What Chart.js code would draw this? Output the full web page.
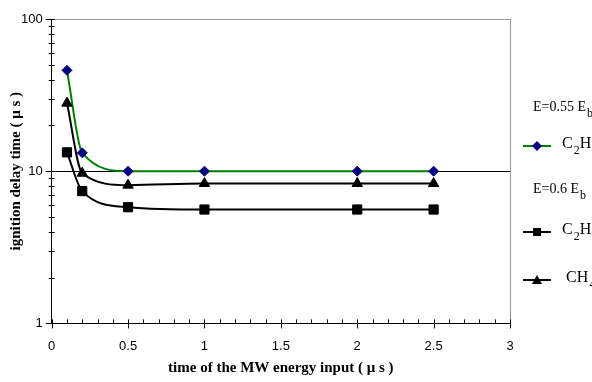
<!DOCTYPE html>
<html>
<head>
<meta charset="utf-8">
<script src="https://cdn.jsdelivr.net/npm/chart.js@4"></script>
<style>
    html, body { margin: 0; padding: 0; background: #fff; overflow: hidden; }
    #wrap { position: relative; width: 592px; height: 382px; }
    #legend { position: absolute; left: 0; top: 0; width: 592px; height: 382px; pointer-events: none;
        font-family: 'Liberation Serif', 'Times New Roman', serif; font-size: 14px; color: #000; }
    #legend .item { position: absolute; white-space: nowrap; }
    #legend .big { font-size: 16px; }
    #legend sub { font-size: 12px; vertical-align: -6px; margin-left: 1px; }
    #legend svg { position: absolute; }
</style>
</head>
<body>
<div id="wrap">
    <canvas id="chart" width="592" height="382"></canvas>
    <div id="legend"></div>
</div>
<script>
const timeValues = [0.1, 0.2, 0.5, 1, 2, 2.5];
const c2hLowEnergy = [46, 13.2, 10, 10, 10, 10];
const c2hHighEnergy = [13.3, 7.4, 5.8, 5.6, 5.6, 5.6];
const ch4HighEnergy = [28, 9.7, 8.1, 8.3, 8.3, 8.3];

const yMajorTicks = [1, 10, 100];
const yTickLabels = ['1', '10', '100'];
const xMajorTicks = [0, 0.5, 1, 1.5, 2, 2.5, 3];
const xTickLabels = ['0', '0.5', '1', '1.5', '2', '2.5', '3'];

const tickFont = { family: "'Liberation Sans Narrow', 'Liberation Sans', sans-serif", size: 13 };
const titleFont = { family: "'Liberation Serif', 'Times New Roman', serif", size: 15, weight: 'bold' };

const yAllTicks = [];
yMajorTicks.forEach((d, i) => {
    if (i === yMajorTicks.length - 1) { yAllTicks.push(d); return; }
    for (let k = 1; k < 10; k++) yAllTicks.push(d * k);
});

// small crossing tick marks like the original spreadsheet plot
const tickMarks = {
    id: 'tickMarks',
    afterDraw(chart) {
        const { ctx, scales: { x, y } } = chart;
        const x0 = x.getPixelForValue(0);
        const y0 = y.getPixelForValue(1);
        ctx.save();
        ctx.strokeStyle = '#000';
        ctx.lineWidth = 1;
        ctx.beginPath();
        yAllTicks.forEach((v) => {
            const py = Math.round(y.getPixelForValue(v)) + 0.5;
            const major = yMajorTicks.includes(v);
            ctx.moveTo(x0 - (major ? 6 : 3), py);
            ctx.lineTo(x0 + 3, py);
        });
        for (let i = 0; i <= 30; i++) {
            const px = Math.round(x.getPixelForValue(i / 10)) + 0.5;
            const major = i % 5 === 0;
            ctx.moveTo(px, y0 - 4);
            ctx.lineTo(px, y0 + (major ? 5 : 0));
        }
        ctx.stroke();
        ctx.restore();
    }
};

const series = [
    { label: 'C2H', data: c2hLowEnergy, borderColor: '#008000', pointStyle: 'rectRot', pointBackgroundColor: '#000080', pointBorderColor: '#000080', pointRadius: 5 },
    { label: 'C2H', data: c2hHighEnergy, borderColor: '#000', pointStyle: 'rect', pointBackgroundColor: '#000', pointBorderColor: '#000', pointRadius: 6.5 },
    { label: 'CH4', data: ch4HighEnergy, borderColor: '#000', pointStyle: 'triangle', pointBackgroundColor: '#000', pointBorderColor: '#000', pointRadius: 6 }
];

new Chart(document.getElementById('chart'), {
    type: 'line',
    data: {
        datasets: series.map((s) => ({
            ...s,
            data: s.data.map((v, i) => ({ x: timeValues[i], y: v })),
            borderWidth: 2,
            cubicInterpolationMode: 'monotone',
            pointBorderWidth: 1,
            clip: false
        })).reverse()
    },
    options: {
        responsive: false,
        animation: false,
        layout: { padding: { top: 19, right: 82, bottom: 0, left: 0 } },
        plugins: { legend: { display: false }, tooltip: { enabled: false } },
        scales: {
            x: {
                type: 'linear',
                min: 0,
                max: 3,
                ticks: {
                    stepSize: 0.1,
                    autoSkip: false,
                    maxRotation: 0,
                    padding: 15,
                    color: '#000',
                    font: tickFont,
                    callback: (v) => {
                        const i = xMajorTicks.findIndex((m) => Math.abs(m - v) < 1e-6);
                        return i >= 0 ? xTickLabels[i] : '';
                    }
                },
                grid: {
                    drawTicks: false,
                    color: (c) => (c.tick && Math.abs(c.tick.value - 3) < 1e-6 ? '#9a9a9a' : 'rgba(0,0,0,0)')
                },
                border: { display: true, color: '#000', width: 1 },
                title: { display: true, text: 'time of the MW energy input ( μ s )', color: '#000', font: titleFont, padding: { top: -10, bottom: 5 } }
            },
            y: {
                type: 'logarithmic',
                min: 1,
                max: 100,
                afterBuildTicks: (scale) => { scale.ticks = yAllTicks.map((v) => ({ value: v })); },
                ticks: {
                    autoSkip: false,
                    padding: 9,
                    color: '#000',
                    font: tickFont,
                    callback: (v) => {
                        const i = yMajorTicks.indexOf(v);
                        return i >= 0 ? yTickLabels[i] : '';
                    }
                },
                grid: {
                    drawTicks: false,
                    color: (c) => {
                        if (!c.tick) return 'rgba(0,0,0,0)';
                        if (c.tick.value === 10) return '#000';
                        if (c.tick.value === 100) return '#9a9a9a';
                        return 'rgba(0,0,0,0)';
                    }
                },
                border: { display: true, color: '#000', width: 1 },
                title: { display: true, text: 'ignition delay time ( μ s )', color: '#000', font: titleFont, padding: { top: 7, bottom: -13 } }
            }
        }
    },
    plugins: [tickMarks]
});

const legendItems = [
    { type: 'head', text: 'E=0.55 E<sub>b</sub>', top: 99 },
    { type: 'mark', color: '#008000', fill: '#000080', shape: 'diamond', text: 'C<sub>2</sub>H<sub>4</sub>', top: 146 },
    { type: 'head', text: 'E=0.6 E<sub>b</sub>', top: 181 },
    { type: 'mark', color: '#000', fill: '#000', shape: 'square', text: 'C<sub>2</sub>H<sub>4</sub>', top: 232 },
    { type: 'mark', color: '#000', fill: '#000', shape: 'triangle', text: 'CH<sub>4</sub>', top: 280 }
];
const legendBox = document.getElementById('legend');
legendItems.forEach((it) => {
    if (it.type === 'head') {
        const d = document.createElement('div');
        d.className = 'item';
        d.style.left = '533px';
        d.style.top = it.top + 'px';
        d.innerHTML = it.text;
        legendBox.appendChild(d);
        return;
    }
    let shape = '';
    if (it.shape === 'diamond') shape = '<polygon points="14,1 19,6 14,11 9,6" fill="' + it.fill + '"/>';
    if (it.shape === 'square') shape = '<rect x="10" y="2" width="8" height="8" fill="' + it.fill + '"/>';
    if (it.shape === 'triangle') shape = '<polygon points="14,1 19,10 9,10" fill="' + it.fill + '"/>';
    const svg = '<svg width="28" height="12" style="left:523px;top:' + (it.top - 6) + 'px"><line x1="0" y1="6" x2="28" y2="6" stroke="' + it.color + '" stroke-width="2"/>' + shape + '</svg>';
    legendBox.insertAdjacentHTML('beforeend', svg);
    const t = document.createElement('div');
    t.className = 'item big';
    t.style.left = (it.shape === 'triangle' ? 566 : 562) + 'px';
    t.style.top = (it.top - 12) + 'px';
    t.innerHTML = it.text;
    legendBox.appendChild(t);
});
</script>
</body>
</html>
